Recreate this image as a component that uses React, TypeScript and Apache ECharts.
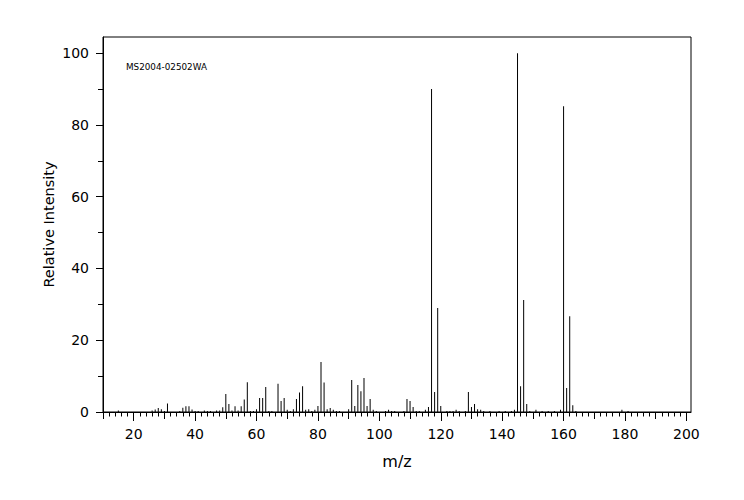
import React, { useEffect, useRef } from 'react';
import * as echarts from 'echarts';

const mz = [
  15, 26, 27, 28, 29, 30, 31, 35, 36, 37, 38, 39, 40, 41, 43, 44, 45, 47, 48, 49,
  50, 51, 52, 53, 54, 55, 56, 57, 58, 59, 60, 61, 62, 63, 64, 65, 67, 68, 69, 70,
  71, 72, 73, 74, 75, 76, 77, 78, 79, 80, 81, 82, 83, 84, 85, 86, 87, 90, 91, 92,
  93, 94, 95, 96, 97, 98, 99, 102, 103, 104, 105, 108, 109, 110, 111, 112, 113, 115, 116, 117,
  118, 119, 120, 122, 123, 124, 125, 126, 128, 129, 130, 131, 132, 133, 134, 136, 139, 141, 143, 144,
  145, 146, 147, 148, 149, 151, 153, 155, 157, 159, 160, 161, 162, 163, 164, 179, 181,
];
const intensity = [
  0.4, 0.4, 0.7, 1.1, 0.8, 0.3, 2.4, 0.3, 1.2, 1.6, 1.6, 0.7, 0.3, 0.3, 0.4, 0.3, 0.3, 0.4, 0.4, 1.3,
  5.0, 2.2, 0.4, 1.6, 0.4, 1.6, 3.5, 8.3, 0.3, 0.3, 0.8, 3.9, 3.9, 7.0, 0.3, 0.3, 7.9, 3.1, 3.9, 0.6,
  0.3, 0.8, 3.6, 5.4, 7.2, 0.6, 0.8, 0.3, 0.6, 1.7, 13.9, 8.2, 0.8, 1.1, 0.6, 0.3, 0.3, 0.8, 8.9, 1.7,
  7.5, 5.8, 9.5, 1.7, 3.6, 0.6, 0.3, 0.3, 0.6, 0.3, 0.3, 0.3, 3.6, 3.1, 1.4, 0.3, 0.3, 0.6, 1.4, 90.0,
  5.6, 29.0, 1.7, 0.3, 0.3, 0.3, 0.6, 0.3, 0.3, 5.6, 1.4, 2.2, 0.8, 0.6, 0.3, 0.3, 0.3, 0.3, 0.3, 0.6,
  100, 7.2, 31.2, 2.2, 0.3, 0.6, 0.3, 0.3, 0.3, 0.6, 85.2, 6.7, 26.7, 1.9, 0.3, 0.6, 0.3,
];

const xTicks10 = [10, 20, 30, 40, 50, 60, 70, 80, 90, 100, 110, 120, 130, 140, 150, 160, 170, 180, 190, 200];
const xTicks20 = [20, 40, 60, 80, 100, 120, 140, 160, 180, 200];
const yTicks10 = [0, 10, 20, 30, 40, 50, 60, 70, 80, 90, 100];
const yTicks20 = [0, 20, 40, 60, 80, 100];

const sampleId = 'MS2004-02502WA';
const xTitle = 'm/z';
const yTitle = 'Relative Intensity';

const FONT = 'DejaVu Sans';
const X_MIN = 10;
const X_MAX = 201.5;
const Y_MIN = 0;
const Y_MAX = 104.5;

export default function App() {
  const ref = useRef<HTMLDivElement>(null);
  useEffect(() => {
    if (!ref.current) return;
    const chart = echarts.init(ref.current, null, { renderer: 'svg' });
    const black = '#000';
    const lineStyle = { color: black, width: 1 };
    chart.setOption({
      animation: false,
      grid: {
        left: 103,
        right: 53,
        top: 37,
        bottom: 88,
        show: true,
        borderColor: black,
        borderWidth: 1,
        backgroundColor: 'transparent',
      },
      graphic: [
        {
          type: 'text',
          left: 126,
          top: 62,
          style: { text: sampleId, fill: black, font: `8.8px "${FONT}"` },
        },
      ],
      xAxis: [
        {
          type: 'value',
          min: X_MIN,
          max: X_MAX,
          interval: 10,
          position: 'bottom',
          axisLine: { onZero: false, lineStyle },
          axisTick: { show: true, length: 7, customValues: xTicks10, lineStyle },
          minorTick: { show: true, splitNumber: 5, length: 4.5, lineStyle },
          splitLine: { show: false },
          minorSplitLine: { show: false },
          axisLabel: {
            customValues: xTicks20,
            formatter: (v: number) => (v % 20 === 0 ? String(v) : ''),
            color: black,
            fontFamily: FONT,
            fontSize: 14,
            margin: 15,
          },
          name: xTitle,
          nameLocation: 'middle',
          nameGap: 41,
          nameMoveOverlap: false,
          nameTextStyle: { color: black, fontFamily: FONT, fontSize: 16 },
        },
        {
          type: 'value',
          min: X_MIN,
          max: X_MAX,
          interval: 10,
          position: 'bottom',
          offset: 0,
          axisLine: { show: false, onZero: false },
          axisTick: { show: true, length: 9, customValues: xTicks20, lineStyle },
          axisLabel: { show: false },
          splitLine: { show: false },
        },
      ],
      yAxis: [
        {
          type: 'value',
          min: Y_MIN,
          max: Y_MAX,
          interval: 10,
          position: 'left',
          axisLine: { show: true, onZero: false, lineStyle },
          axisTick: { show: true, length: 5, customValues: yTicks10, lineStyle },
          splitLine: { show: false },
          axisLabel: {
            customValues: yTicks20,
            formatter: (v: number) => (v % 20 === 0 ? String(v) : ''),
            color: black,
            fontFamily: FONT,
            fontSize: 14,
            margin: 14,
          },
          name: yTitle,
          nameLocation: 'middle',
          nameGap: 47,
          nameMoveOverlap: false,
          nameTextStyle: { color: black, fontFamily: FONT, fontSize: 14.5 },
        },
        {
          type: 'value',
          min: Y_MIN,
          max: Y_MAX,
          interval: 10,
          position: 'left',
          offset: 0,
          axisLine: { show: false, onZero: false },
          axisTick: { show: true, length: 7, customValues: yTicks20, lineStyle },
          axisLabel: { show: false },
          splitLine: { show: false },
        },
      ],
      series: [
        {
          type: 'bar',
          xAxisIndex: 0,
          yAxisIndex: 0,
          barWidth: 1,
          itemStyle: { color: black },
          data: mz.map((m, i) => [m, intensity[i]]),
        },
      ],
    });
    return () => chart.dispose();
  }, []);
  return (
    <div
      ref={ref}
      style={{ position: 'absolute', left: 0, top: 0, width: 744, height: 500 }}
    />
  );
}
